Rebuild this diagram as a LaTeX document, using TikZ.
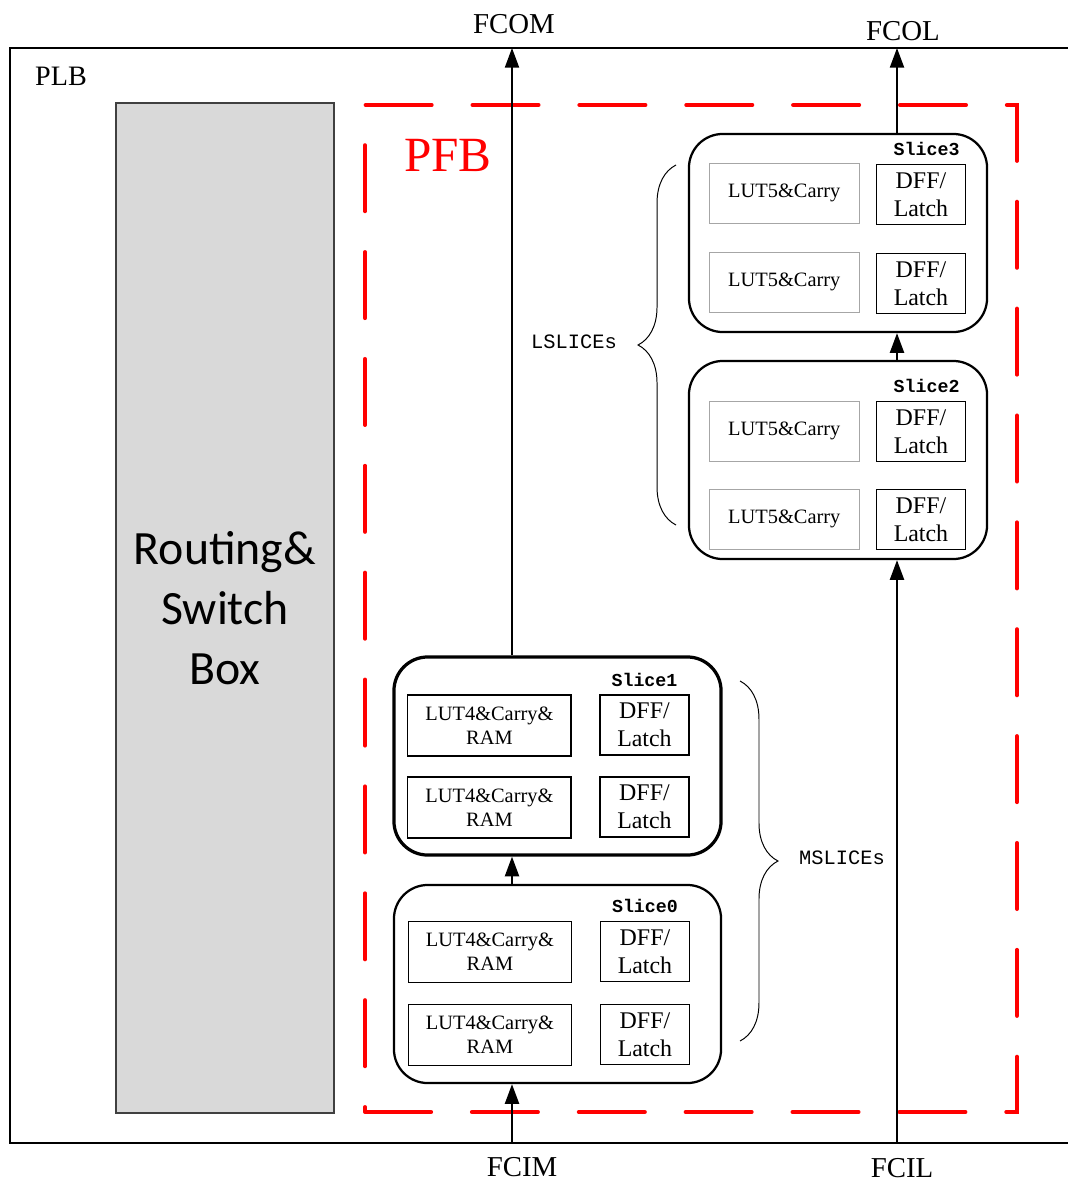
\documentclass[tikz,border=0pt]{standalone}
\usepackage{fontspec}
\setmainfont{Liberation Serif}
\setmonofont{Liberation Mono}
\newfontfamily\rsfont{Carlito}
\usetikzlibrary{positioning,calc}
\usetikzlibrary{arrows.meta}
\usetikzlibrary{decorations.pathreplacing}

\tikzset{
   slice/.style={draw, line width=1.6pt, rounded corners=24pt, inner sep=0pt},
   lslice/.style={slice, minimum width=7.45cm, minimum height=4.95cm},
   mslice/.style={slice, minimum width=8.175cm, minimum height=4.95cm},
   lut5/.style={draw=black!35, line width=0.6pt, minimum width=3.75cm,
      minimum height=1.5cm, inner sep=0pt, font=\fontsize{14.5}{17}\selectfont},
   lut4/.style={draw, line width=0.8pt, minimum width=4.075cm,
      minimum height=1.525cm, inner sep=0pt, align=center,
      font=\fontsize{14.5}{17}\selectfont},
   dff/.style={draw, line width=0.8pt, minimum width=2.225cm,
      minimum height=1.5cm, inner sep=0pt, align=center,
      font=\fontsize{17}{20}\selectfont},
   slicename/.style={font=\ttfamily\bfseries\fontsize{13}{13}\selectfont, inner sep=1pt},
   sig/.style={line width=1.4pt, -{Triangle[length=14pt,width=10pt]}},
   port/.style={font=\fontsize{20.5}{22}\selectfont},
   grp/.style={font=\ttfamily\fontsize{14.5}{15}\selectfont},
   brc/.style={line width=0.7pt, decorate, decoration={brace, amplitude=27pt}},
}

\begin{document}
\begin{tikzpicture}[x=0.025cm, y=-0.025cm]
   \useasboundingbox (0,0) rectangle (1067,1183);

   % PLB frame
   \draw[line width=1pt] (1070,48) -- (10,48) -- (10,1143) -- (1070,1143);
   \node[font=\fontsize{20}{22}\selectfont] (plb) at (61,76) {PLB};

   % routing and switch box
   \node[draw=black!75, line width=1.2pt, fill=black!15, minimum width=5.45cm,
      minimum height=25.25cm, align=center,
      font=\rsfont\fontsize{34}{42.5}\selectfont] (rsb) at (225,608)
      {Routing\&\\Switch\\Box};

   % PFB region
   \draw[red, line width=2.8pt, line cap=round, dash pattern=on 47pt off 29pt]
      (365,1112) -- (1017,1112) -- (1017,105) -- (365,105) -- cycle;
   \node[red, font=\fontsize{35}{40}\selectfont] (pfb) at (448,155) {PFB};

   % LSLICEs
   \node[lslice] (s3) at (838,233) {};
   \node[lut5, below right=0.75cm and 0.525cm of s3.north west]  (l31) {LUT5\&Carry};
   \node[dff,  below right=0.775cm and 4.7cm of s3.north west]   (d31) {DFF/\\Latch};
   \node[lut5, below right=2.975cm and 0.525cm of s3.north west] (l32) {LUT5\&Carry};
   \node[dff,  below right=3.0cm and 4.7cm of s3.north west]     (d32) {DFF/\\Latch};
   \node[slicename, above=4.5pt of d31, xshift=4pt] (n3) {Slice3};

   \node[lslice] (s2) at (838,460) {};
   \node[lut5, below right=1.025cm and 0.525cm of s2.north west] (l21) {LUT5\&Carry};
   \node[dff,  below right=1.025cm and 4.7cm of s2.north west]   (d21) {DFF/\\Latch};
   \node[lut5, below right=3.225cm and 0.525cm of s2.north west] (l22) {LUT5\&Carry};
   \node[dff,  below right=3.225cm and 4.7cm of s2.north west]   (d22) {DFF/\\Latch};
   \node[slicename, above=4.5pt of d21, xshift=4pt] (n2) {Slice2};

   % MSLICEs
   \node[mslice, line width=2.3pt] (s1) at (557.5,756) {};
   \node[lut4, below right=0.975cm and 0.375cm of s1.north west] (l11) {LUT4\&Carry\&\\RAM};
   \node[dff,  below right=0.975cm and 5.175cm of s1.north west] (d11) {DFF/\\Latch};
   \node[lut4, below right=3.025cm and 0.375cm of s1.north west] (l12) {LUT4\&Carry\&\\RAM};
   \node[dff,  below right=3.025cm and 5.175cm of s1.north west] (d12) {DFF/\\Latch};
   \node[slicename, above=4.5pt of d11] (n1) {Slice1};

   \node[mslice] (s0) at (557.5,984) {};
   \node[lut4, below right=0.925cm and 0.375cm of s0.north west] (l01) {LUT4\&Carry\&\\RAM};
   \node[dff,  below right=0.925cm and 5.175cm of s0.north west] (d01) {DFF/\\Latch};
   \node[lut4, below right=3.0cm and 0.375cm of s0.north west]   (l02) {LUT4\&Carry\&\\RAM};
   \node[dff,  below right=3.0cm and 5.175cm of s0.north west]   (d02) {DFF/\\Latch};
   \node[slicename, above=4.5pt of d01] (n0) {Slice0};

   % group braces
   \draw[brc] (676,525) -- (676,165);
   \node[grp] (lsl) at (574,342) {LSLICEs};
   \draw[brc] (740,681) -- (740,1041);
   \node[grp] (msl) at (842,858) {MSLICEs};

   % carry chain ports
   \coordinate (fcom) at (512,48);
   \coordinate (fcol) at (897,48);
   \coordinate (fcim) at (512,1143);
   \coordinate (fcil) at (897,1143);
   \node[port] (tfcom) at (514,24)   {FCOM};
   \node[port] (tfcol) at (903,31)   {FCOL};
   \node[port] (tfcim) at (522,1167) {FCIM};
   \node[port] (tfcil) at (902,1168) {FCIL};

   \draw[sig] (fcim) -- (s0.south -| fcim);
   \draw[sig] (s0.north -| fcim) -- (s1.south -| fcim);
   \draw[sig] (s1.north -| fcom) -- (fcom);
   \draw[sig] (fcil) -- (s2.south -| fcil);
   \draw[sig] (s2.north -| fcil) -- (s3.south -| fcil);
   \draw[sig] (s3.north -| fcol) -- (fcol);
\end{tikzpicture}
\end{document}
